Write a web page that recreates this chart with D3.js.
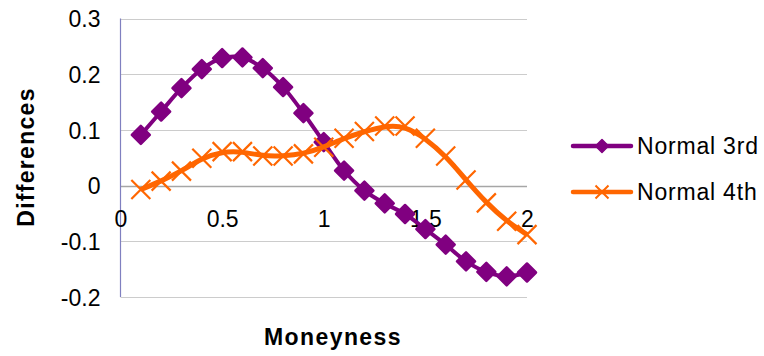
<!DOCTYPE html>
<html>
<head>
<meta charset="utf-8">
<script src="https://cdn.jsdelivr.net/npm/d3@7"></script>
<style>
  html, body { margin: 0; padding: 0; background: #fff; }
  svg { display: block; font-family: "Liberation Sans", Arial, sans-serif; }
</style>
</head>
<body>
<svg id="chart" width="764" height="356"></svg>
<script>
// Moneyness grid and the two difference series
const moneyness = [0.1, 0.2, 0.3, 0.4, 0.5, 0.6, 0.7, 0.8, 0.9, 1.0,
                   1.1, 1.2, 1.3, 1.4, 1.5, 1.6, 1.7, 1.8, 1.9, 2.0];
const normal3rd = [0.091, 0.133, 0.175, 0.209, 0.229, 0.230, 0.211, 0.177, 0.130, 0.078,
                   0.027, -0.009, -0.032, -0.051, -0.078, -0.106, -0.136, -0.155, -0.163, -0.156];
const normal4th = [-0.007, 0.008, 0.026, 0.049, 0.061, 0.061, 0.053, 0.053, 0.057, 0.069,
                   0.085, 0.097, 0.107, 0.107, 0.085, 0.053, 0.010, -0.031, -0.064, -0.088];
const seriesNames = ["Normal 3rd", "Normal 4th"];
const xTicks = [0, 0.5, 1, 1.5, 2];
const yTicks = [-0.2, -0.1, 0, 0.1, 0.2, 0.3];
const yTickLabels = ["-0.2", "-0.1", "0", "0.1", "0.2", "0.3"];

const purple = "#800080", orange = "#FF6600";

const svg = d3.select("#chart");
const x = d3.scaleLinear().domain([0, 2]).range([120.5, 527]);
const y = d3.scaleLinear().domain([-0.2, 0.3]).range([297, 18.5]);

// horizontal gridlines
svg.append("g").selectAll("line").data(yTicks).join("line")
  .attr("x1", x(0)).attr("x2", x(2))
  .attr("y1", d => Math.round(y(d)) + 0.5).attr("y2", d => Math.round(y(d)) + 0.5)
  .attr("stroke", d => d === 0 ? "#a6a6a6" : "#cccccc")
  .attr("stroke-width", d => d === 0 ? 1.5 : 1);

// y axis
const yAxis = d3.axisLeft(y).tickValues(yTicks).tickSize(0).tickPadding(0)
  .tickFormat((d, i) => yTickLabels[i]);
const gy = svg.append("g").attr("transform", `translate(${x(0) - 20},0)`).call(yAxis);
gy.select(".domain").remove();
gy.selectAll("text").attr("font-size", 23).attr("fill", "#000")
  .attr("font-family", "'Liberation Sans', Arial, sans-serif").attr("dy", "0.36em");
svg.append("line")
  .attr("x1", 120.5).attr("x2", 120.5).attr("y1", y(0.3)).attr("y2", y(-0.2))
  .attr("stroke", "#8080c0").attr("stroke-width", 1.2);

// x axis labels sit below the zero line
const xAxis = d3.axisBottom(x).tickValues(xTicks).tickSize(0).tickPadding(0)
  .tickFormat(d => String(d));
const gx = svg.append("g").attr("transform", `translate(0,${y(0) + 33})`).call(xAxis);
gx.select(".domain").remove();
gx.selectAll("text").attr("font-size", 23).attr("fill", "#000")
  .attr("font-family", "'Liberation Sans', Arial, sans-serif").attr("dy", "0.36em");

// series lines
const line3 = d3.line().x((d, i) => x(moneyness[i])).y(d => y(d)).curve(d3.curveCatmullRom);
const line4 = d3.line().x((d, i) => x(moneyness[i])).y(d => y(d)).curve(d3.curveBasis);

svg.append("path").datum(normal3rd).attr("d", line3)
  .attr("fill", "none").attr("stroke", purple).attr("stroke-width", 4).attr("stroke-linejoin", "round");

// diamond markers
const diamond = r => `M0,${-r}L${r},0L0,${r}L${-r},0Z`;
svg.append("g").selectAll("path").data(normal3rd).join("path")
  .attr("transform", (d, i) => `translate(${x(moneyness[i])},${y(d)})`)
  .attr("d", diamond(9))
  .attr("fill", purple).attr("stroke", purple).attr("stroke-width", 2.5).attr("stroke-linejoin", "round");

svg.append("path").datum(normal4th).attr("d", line4)
  .attr("fill", "none").attr("stroke", orange).attr("stroke-width", 5).attr("stroke-linejoin", "round");

// x markers
const cross = r => `M${-r},${-r}L${r},${r}M${-r},${r}L${r},${-r}`;
svg.append("g").selectAll("path").data(normal4th).join("path")
  .attr("transform", (d, i) => `translate(${x(moneyness[i])},${y(d)})`)
  .attr("d", cross(9.5))
  .attr("fill", "none").attr("stroke", orange).attr("stroke-width", 2.2);

// axis titles
svg.append("text").text("Moneyness")
  .attr("x", 333).attr("y", 345).attr("text-anchor", "middle")
  .attr("font-size", 23).attr("font-weight", "bold").attr("letter-spacing", 1.4);
svg.append("text").text("Differences")
  .attr("transform", "translate(34,157) rotate(-90)").attr("text-anchor", "middle")
  .attr("font-size", 23).attr("font-weight", "bold").attr("letter-spacing", 1.3);

// legend
const legend = svg.append("g");
const legendY = [146, 192];
const colors = [purple, orange];
seriesNames.forEach((name, i) => {
  const g = legend.append("g").attr("transform", `translate(0,${legendY[i]})`);
  g.append("line").attr("x1", 573).attr("x2", 631).attr("y1", 0).attr("y2", 0)
    .attr("stroke", colors[i]).attr("stroke-width", 4.5).attr("stroke-linecap", "round");
  if (i === 0) {
    g.append("path").attr("transform", "translate(602,0)").attr("d", diamond(6.5))
      .attr("fill", purple).attr("stroke", purple).attr("stroke-width", 1.5).attr("stroke-linejoin", "round");
  } else {
    g.append("path").attr("transform", "translate(602,0)").attr("d", cross(6.5))
      .attr("fill", "none").attr("stroke", orange).attr("stroke-width", 2);
  }
  g.append("text").text(name).attr("x", 637).attr("y", 0).attr("dy", "0.36em")
    .attr("font-size", 23).attr("letter-spacing", 0.8);
});
</script>
</body>
</html>
